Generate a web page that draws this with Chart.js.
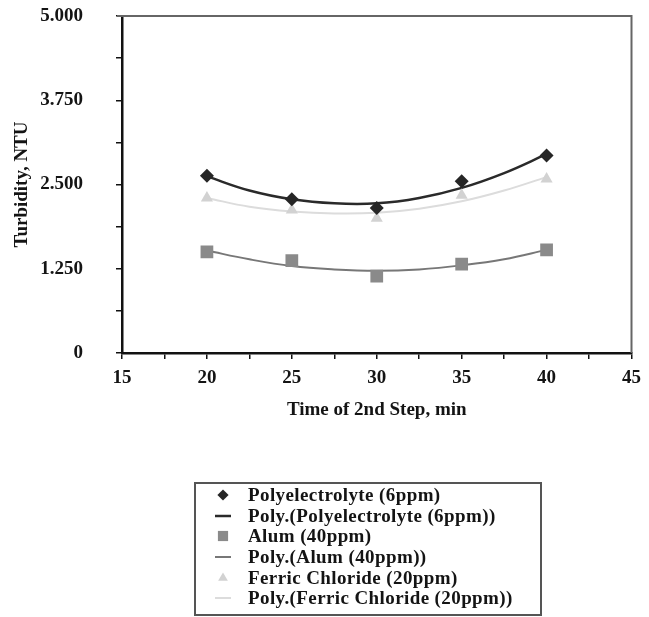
<!DOCTYPE html>
<html>
<head>
<meta charset="utf-8">
<title>Turbidity vs time of 2nd step</title>
<script src="https://cdn.jsdelivr.net/npm/chart.js@4/dist/chart.umd.min.js"></script>
<style>
  html, body { margin: 0; padding: 0; background: #fff; }
  #wrap { position: relative; width: 649px; height: 617px; }
  #legend {
    position: absolute; left: 194px; top: 482px;
    width: 344px; height: 129px;
    border: 2px solid #555;
    padding-top: 1px; box-sizing: content-box;
    font: bold 19px "Liberation Serif", "Times New Roman", serif;
    letter-spacing: 0.4px;
    color: #141414;
  }
  #legend .row { height: 20.6px; display: flex; align-items: center; white-space: nowrap; }
  #legend canvas { margin-left: 15px; margin-right: 13px; }
</style>
</head>
<body>
<div id="wrap">
  <canvas id="chart" width="649" height="617"></canvas>
  <div id="legend"></div>
</div>
<script>
// measured turbidity at each time of the 2nd step
var times = [20, 25, 30, 35, 40];
var polyelectrolyte = [2.63, 2.28, 2.15, 2.55, 2.93];
var alum = [1.50, 1.37, 1.14, 1.32, 1.53];
var ferricChloride = [2.30, 2.12, 2.00, 2.34, 2.58];

// polynomial trend lines
var trendTimes = [20, 22.5, 25, 27.5, 30, 32.5, 35, 37.5, 40];
var polyelectrolyteTrend = [2.62, 2.41, 2.28, 2.22, 2.22, 2.30, 2.45, 2.67, 2.95];
var alumTrend = [1.52, 1.39, 1.29, 1.24, 1.22, 1.24, 1.30, 1.39, 1.53];
var ferricChlorideTrend = [2.30, 2.17, 2.10, 2.07, 2.08, 2.14, 2.25, 2.41, 2.61];

var yTicks = [0, 1.25, 2.5, 3.75, 5];
var xTicks = [15, 20, 25, 30, 35, 40, 45];

var serif = '"Liberation Serif", "Times New Roman", serif';
var textColor = '#141414';

function pairs(xs, ys) {
    return xs.map(function (x, i) { return { x: x, y: ys[i] }; });
}

function markers(label, values, style, color, radius) {
    return {
        label: label,
        data: pairs(times, values),
        showLine: false,
        pointStyle: style,
        pointRadius: radius,
        pointBackgroundColor: color,
        pointBorderColor: color,
        pointBorderWidth: 0,
        order: 0
    };
}

function trend(label, values, color, width) {
    return {
        label: label,
        data: pairs(trendTimes, values),
        showLine: true,
        borderColor: color,
        borderWidth: width,
        pointRadius: 0,
        tension: 0.4,
        order: 1
    };
}

var datasets = [
    markers('Polyelectrolyte (6ppm)', polyelectrolyte, 'rectRot', '#262626', 7),
    trend('Poly.(Polyelectrolyte (6ppm))', polyelectrolyteTrend, '#2a2a2a', 2.5),
    markers('Alum (40ppm)', alum, 'rect', '#8a8a8a', 9),
    trend('Poly.(Alum (40ppm))', alumTrend, '#777', 2),
    markers('Ferric Chloride (20ppm)', ferricChloride, 'triangle', '#d2d2d2', 7),
    trend('Poly.(Ferric Chloride (20ppm))', ferricChlorideTrend, '#dcdcdc', 2)
];

// grey top and right edges of the plot box
var frame = {
    id: 'frame',
    beforeDatasetsDraw: function (chart) {
        var ctx = chart.ctx, a = chart.chartArea;
        ctx.save();
        ctx.strokeStyle = '#666';
        ctx.lineWidth = 2;
        ctx.beginPath();
        ctx.moveTo(a.left - 5, a.top);
        ctx.lineTo(a.right, a.top);
        ctx.lineTo(a.right, a.bottom);
        ctx.stroke();
        ctx.restore();
    }
};

var font = { family: serif, weight: 'bold', size: 19 };

var chart = new Chart(document.getElementById('chart'), {
    type: 'scatter',
    data: { datasets: datasets },
    plugins: [frame],
    options: {
        responsive: false,
        animation: false,
        layout: { padding: { top: 16, right: 11, bottom: 192, left: 0 } },
        plugins: {
            legend: { display: false },
            tooltip: { enabled: false }
        },
        scales: {
            x: {
                type: 'linear',
                min: xTicks[0],
                max: xTicks[xTicks.length - 1],
                afterFit: function (s) { s.height = 72; },
                border: { color: '#111', width: 2.5 },
                grid: { drawOnChartArea: false, tickLength: 6, color: '#111', lineWidth: 1.5 },
                ticks: {
                    stepSize: 2.5,
                    autoSkip: false,
                    maxRotation: 0,
                    padding: 8,
                    color: textColor,
                    font: font,
                    callback: function (v) { return xTicks.indexOf(v) >= 0 ? String(v) : ''; }
                },
                title: {
                    display: true,
                    text: 'Time of 2nd Step, min',
                    color: textColor,
                    font: font,
                    padding: { top: 0, bottom: 4 }
                }
            },
            y: {
                min: yTicks[0],
                max: yTicks[yTicks.length - 1],
                afterFit: function (s) {
                    s.width = 122;
                    s.paddingTop = 0;
                    s.paddingBottom = 0;
                },
                border: { color: '#111', width: 2.5 },
                grid: { drawOnChartArea: false, tickLength: 6, color: '#111', lineWidth: 1.5 },
                ticks: {
                    stepSize: 0.625,
                    autoSkip: false,
                    padding: 33,
                    color: textColor,
                    font: font,
                    callback: function (v) {
                        if (yTicks.indexOf(v) < 0) return '';
                        return v === 0 ? '0' : v.toFixed(3);
                    }
                },
                title: {
                    display: true,
                    text: 'Turbidity, NTU',
                    color: textColor,
                    font: font,
                    padding: { top: 11, bottom: 0 }
                }
            }
        }
    }
});

// boxed legend under the chart, one entry per dataset
function drawIcon(c, ds) {
    var ctx = c.getContext('2d');
    var cx = c.width / 2, cy = c.height / 2;
    if (ds.showLine) {
        ctx.strokeStyle = ds.borderColor;
        ctx.lineWidth = ds.borderWidth;
        ctx.beginPath();
        ctx.moveTo(cx - 8, cy);
        ctx.lineTo(cx + 8, cy);
        ctx.stroke();
        return;
    }
    var r = ds.pointRadius * 0.8;
    ctx.fillStyle = ds.pointBackgroundColor;
    ctx.beginPath();
    if (ds.pointStyle === 'rectRot') {
        ctx.moveTo(cx, cy - r); ctx.lineTo(cx + r, cy);
        ctx.lineTo(cx, cy + r); ctx.lineTo(cx - r, cy);
    } else if (ds.pointStyle === 'rect') {
        var h = r * Math.SQRT1_2;
        ctx.rect(cx - h, cy - h, 2 * h, 2 * h);
    } else {
        ctx.moveTo(cx, cy - r); ctx.lineTo(cx + r * 0.87, cy + r * 0.5);
        ctx.lineTo(cx - r * 0.87, cy + r * 0.5);
    }
    ctx.closePath();
    ctx.fill();
}

var legend = document.getElementById('legend');
chart.data.datasets.forEach(function (ds) {
    var row = document.createElement('div');
    row.className = 'row';
    var icon = document.createElement('canvas');
    icon.width = 24;
    icon.height = 18;
    drawIcon(icon, ds);
    var text = document.createElement('span');
    text.textContent = ds.label;
    row.appendChild(icon);
    row.appendChild(text);
    legend.appendChild(row);
});
</script>
</body>
</html>
